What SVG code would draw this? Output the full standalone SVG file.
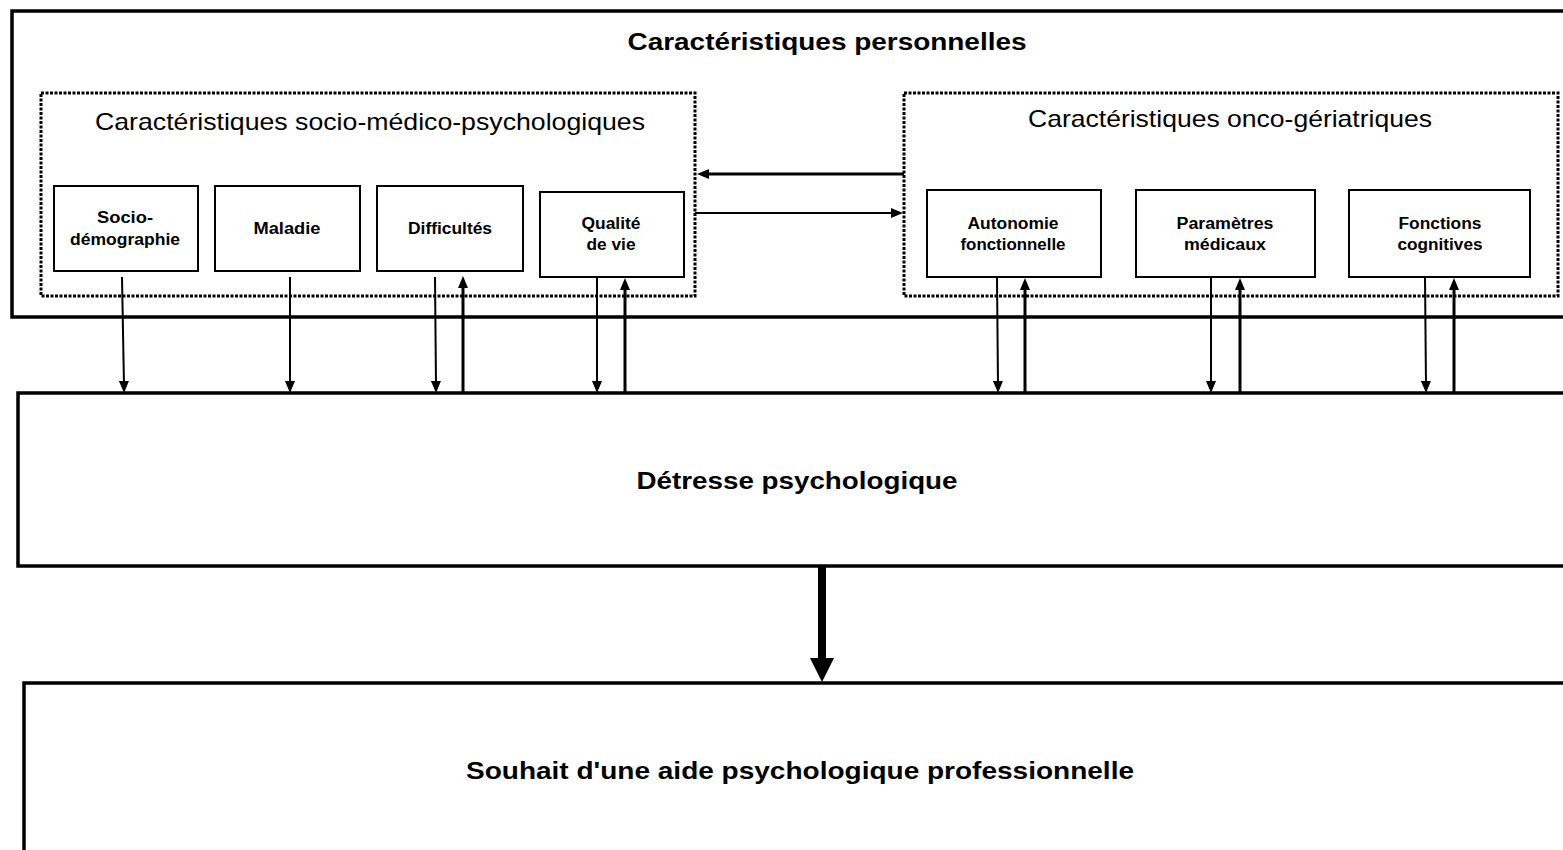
<svg xmlns="http://www.w3.org/2000/svg" width="1563" height="850" viewBox="0 0 1563 850">
<style>
.big{fill:#fff;stroke:#000;stroke-width:3.5}
.dot{fill:none;stroke:#000;stroke-width:3;stroke-dasharray:3 1.5}
.box{fill:#fff;stroke:#000;stroke-width:2}
.t{font-family:"Liberation Sans",Arial,sans-serif;fill:#000;text-anchor:middle}
.tb{font-weight:bold}
.sm{font-size:16px;font-weight:bold}
.hd{font-size:24px}
.ln{stroke:#000;fill:none}
.thin{stroke-width:2}
.thick{stroke-width:3}
</style>
<defs>
<marker id="ah" viewBox="0 0 12 10" refX="5" refY="5" markerUnits="userSpaceOnUse" markerWidth="12" markerHeight="10" orient="auto">
<path d="M0,0 L12,5 L0,10 z" fill="#000"/>
</marker>
</defs>
<rect width="1563" height="850" fill="#fff"/>
<g id="perso">
<rect class="big" x="12" y="11" width="1560" height="306"/>
<text class="t tb" x="827" y="50" font-size="23" textLength="399" lengthAdjust="spacingAndGlyphs">Caractéristiques personnelles</text>
</g>
<g id="socio-group">
<rect class="dot" x="41" y="93" width="654" height="203"/>
<text class="t hd" x="370" y="130" textLength="550" lengthAdjust="spacingAndGlyphs">Caractéristiques socio-médico-psychologiques</text>
</g>
<g id="onco-group">
<rect class="dot" x="904" y="93" width="654" height="203"/>
<text class="t hd" x="1230" y="127" textLength="404" lengthAdjust="spacingAndGlyphs">Caractéristiques onco-gériatriques</text>
</g>
<g id="socio">
<rect class="box" x="54" y="186" width="144" height="85"/>
<text class="t sm" x="125" y="223" textLength="56" lengthAdjust="spacingAndGlyphs">Socio-</text>
<text class="t sm" x="125" y="245" textLength="110" lengthAdjust="spacingAndGlyphs">démographie</text>
</g>
<g id="maladie">
<rect class="box" x="215" y="186" width="145" height="85"/>
<text class="t sm" x="287" y="234" textLength="67" lengthAdjust="spacingAndGlyphs">Maladie</text>
</g>
<g id="difficultes">
<rect class="box" x="377" y="186" width="146" height="85"/>
<text class="t sm" x="450" y="234" textLength="84" lengthAdjust="spacingAndGlyphs">Difficultés</text>
</g>
<g id="qualite">
<rect class="box" x="540" y="192" width="144" height="85"/>
<text class="t sm" x="611" y="229" textLength="59" lengthAdjust="spacingAndGlyphs">Qualité</text>
<text class="t sm" x="611" y="250" textLength="49" lengthAdjust="spacingAndGlyphs">de vie</text>
</g>
<g id="autonomie">
<rect class="box" x="927" y="190" width="174" height="87"/>
<text class="t sm" x="1013" y="229" textLength="91" lengthAdjust="spacingAndGlyphs">Autonomie</text>
<text class="t sm" x="1013" y="250" textLength="105" lengthAdjust="spacingAndGlyphs">fonctionnelle</text>
</g>
<g id="parametres">
<rect class="box" x="1136" y="190" width="179" height="87"/>
<text class="t sm" x="1225" y="229" textLength="97" lengthAdjust="spacingAndGlyphs">Paramètres</text>
<text class="t sm" x="1225" y="250" textLength="82" lengthAdjust="spacingAndGlyphs">médicaux</text>
</g>
<g id="fonctions">
<rect class="box" x="1349" y="190" width="181" height="87"/>
<text class="t sm" x="1440" y="229" textLength="83" lengthAdjust="spacingAndGlyphs">Fonctions</text>
<text class="t sm" x="1440" y="250" textLength="85" lengthAdjust="spacingAndGlyphs">cognitives</text>
</g>
<g id="detresse">
<rect class="big" x="18" y="393" width="1560" height="173"/>
<text class="t tb" x="797" y="489" font-size="23" textLength="321" lengthAdjust="spacingAndGlyphs">Détresse psychologique</text>
</g>
<g id="souhait">
<rect class="big" x="24" y="683" width="1560" height="200"/>
<text class="t tb" x="800" y="779" font-size="23" textLength="668" lengthAdjust="spacingAndGlyphs">Souhait d'une aide psychologique professionnelle</text>
</g>
<g id="connectors">
<line class="ln thick" x1="904" y1="174" x2="704" y2="174" marker-end="url(#ah)"/>
<line class="ln thin" x1="695" y1="213" x2="896" y2="213" marker-end="url(#ah)"/>
<line class="ln thin" x1="122" y1="277" x2="124" y2="386" marker-end="url(#ah)"/>
<line class="ln thin" x1="290" y1="277" x2="290" y2="386" marker-end="url(#ah)"/>
<line class="ln thin" x1="435" y1="277" x2="436" y2="386" marker-end="url(#ah)"/>
<line class="ln thick" x1="463" y1="392" x2="463" y2="283" marker-end="url(#ah)"/>
<line class="ln thin" x1="597" y1="277" x2="597" y2="386" marker-end="url(#ah)"/>
<line class="ln thick" x1="625" y1="392" x2="625" y2="285" marker-end="url(#ah)"/>
<line class="ln thin" x1="997" y1="277" x2="998" y2="386" marker-end="url(#ah)"/>
<line class="ln thick" x1="1025" y1="392" x2="1025" y2="285" marker-end="url(#ah)"/>
<line class="ln thin" x1="1211" y1="277" x2="1211" y2="386" marker-end="url(#ah)"/>
<line class="ln thick" x1="1240" y1="392" x2="1240" y2="285" marker-end="url(#ah)"/>
<line class="ln thin" x1="1425" y1="277" x2="1426" y2="386" marker-end="url(#ah)"/>
<line class="ln thick" x1="1454" y1="392" x2="1454" y2="285" marker-end="url(#ah)"/>
<line class="ln" stroke-width="8" x1="822" y1="567" x2="822" y2="662"/>
<path d="M810,658 L834,658 L822,682 z" fill="#000"/>
</g>
</svg>
